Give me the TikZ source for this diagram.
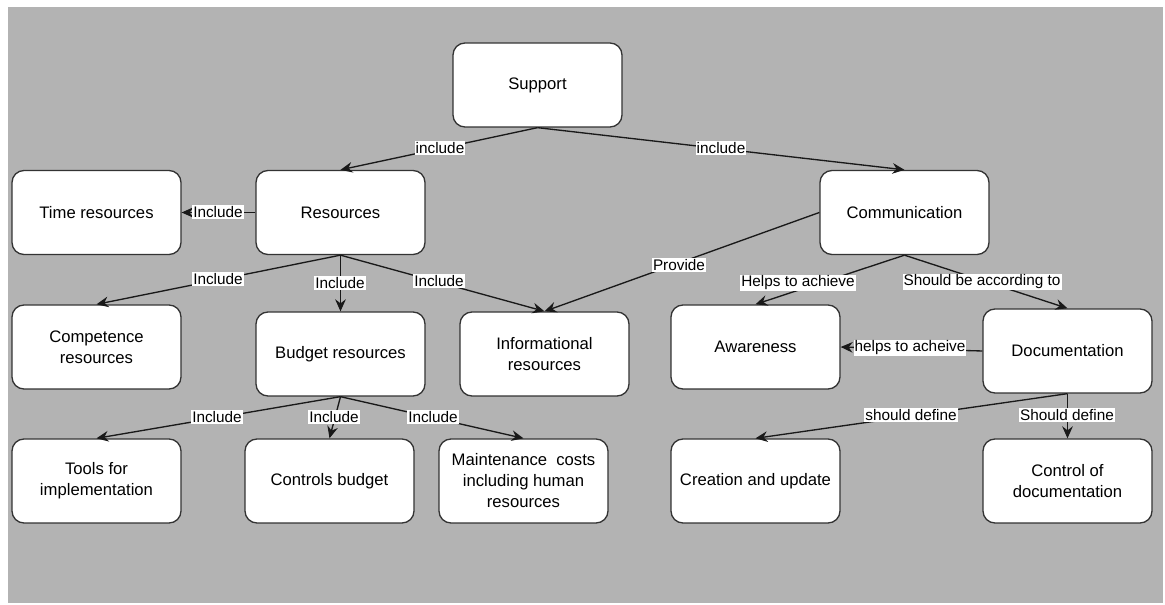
\documentclass[tikz,border=0pt]{standalone}
\usepackage{fontspec}
\setmainfont{Liberation Sans}
\usetikzlibrary{arrows.meta}
\begin{document}
\begin{tikzpicture}[x=0.75pt,y=-0.75pt,
  box/.style={draw=black!80, fill=white, line width=1pt, rounded corners=9pt,
    minimum width=126.75pt, minimum height=63pt, align=center,
    font=\fontsize{12.5pt}{15.75pt}\selectfont, text=black, inner sep=2pt},
  conn/.style={draw=black!90, line width=1pt, -{Stealth[length=9pt,width=8pt,inset=3pt]}},
  lbl/.style={fill=white, inner sep=0.8pt, font=\fontsize{11.5pt}{13.5pt}\selectfont, text=black}]
\useasboundingbox (0,0) rectangle (1165,605);
\fill[white] (0,0) rectangle (1165,605);
\fill[fill={rgb,255:red,179;green,179;blue,179}] (8,7) rectangle (1163,603);

\node[box] (sup) at (537.5,85) {Support};
\node[box] (time) at (96.5,212.5) {Time resources};
\node[box] (res) at (340.5,212.5) {Resources};
\node[box] (comm) at (904.5,212.5) {Communication};
\node[box] (comp) at (96.5,347) {Competence\\resources};
\node[box] (bud) at (340.5,354) {Budget resources};
\node[box] (info) at (544.5,354) {Informational\\resources};
\node[box] (aware) at (755.5,347) {Awareness};
\node[box] (doc) at (1067.5,351) {Documentation};
\node[box] (tools) at (96.5,481) {Tools for\\implementation};
\node[box] (cbud) at (329.5,481) {Controls budget};
\node[box] (maint) at (523.5,481) {Maintenance\ \ costs\\including human\\resources};
\node[box] (crea) at (755.5,481) {Creation and update};
\node[box] (cdoc) at (1067.5,481) {Control of\\documentation};

\draw[conn] (sup.south) -- (res.north);
\draw[conn] (sup.south) -- (comm.north);
\draw[conn] (res.west) -- (time.east);
\draw[conn] (res.south) -- (comp.north);
\draw[conn] (res.south) -- (bud.north);
\draw[conn] (res.south) -- (info.north);
\draw[conn] (comm.west) -- (info.north);
\draw[conn] (comm.south) -- (aware.north);
\draw[conn] (comm.south) -- (doc.north);
\draw[conn] (doc.west) -- (aware.east);
\draw[conn] (bud.south) -- (tools.north);
\draw[conn] (bud.south) -- (cbud.north);
\draw[conn] (bud.south) -- (maint.north);
\draw[conn] (doc.south) -- (crea.north);
\draw[conn] (doc.south) -- (cdoc.north);

\node[lbl] (l1) at (440,148) {include};
\node[lbl] (l2) at (721,148) {include};
\node[lbl] (l3) at (218,212) {Include};
\node[lbl] (l4) at (218,279) {Include};
\node[lbl] (l5) at (340,283) {Include};
\node[lbl] (l6) at (439,281) {Include};
\node[lbl] (l7) at (679,265) {Provide};
\node[lbl] (l8) at (798,283) {Helps to achieve};
\node[lbl] (l9) at (982,282) {Should be according to};
\node[lbl] (l10) at (910,348) {helps to acheive};
\node[lbl] (l11) at (217,417) {Include};
\node[lbl] (l12) at (334,417) {Include};
\node[lbl] (l13) at (433,417) {Include};
\node[lbl] (l14) at (911,415) {should define};
\node[lbl] (l15) at (1067,415) {Should define};
\end{tikzpicture}
\end{document}
